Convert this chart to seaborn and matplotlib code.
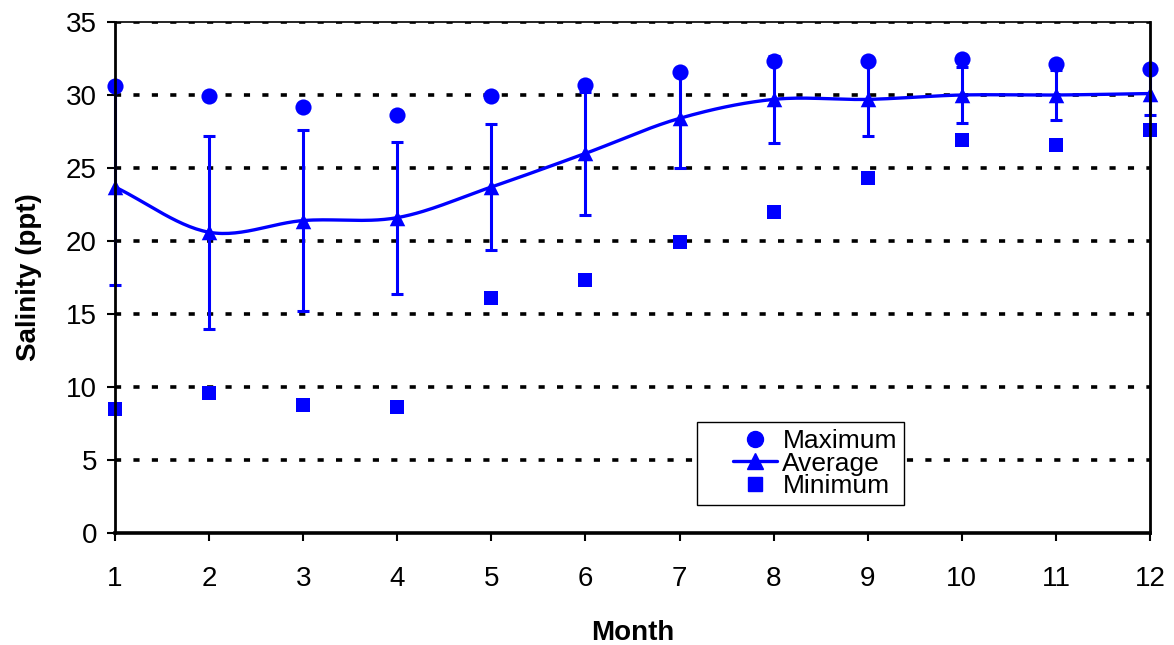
import numpy as np
import pandas as pd
import matplotlib
matplotlib.use("Agg")
import matplotlib.pyplot as plt
from matplotlib.lines import Line2D
from matplotlib.legend_handler import HandlerLine2D
import seaborn as sns

# monthly salinity summary (ppt)
months = [1, 2, 3, 4, 5, 6, 7, 8, 9, 10, 11, 12]
sal_max = [30.6, 29.9, 29.2, 28.6, 29.9, 30.7, 31.6, 32.3, 32.3, 32.5, 32.1, 31.8]
sal_avg = [23.7, 20.6, 21.4, 21.6, 23.7, 26.0, 28.4, 29.7, 29.7, 30.0, 30.0, 30.1]
sal_sd = [6.7, 6.6, 6.2, 5.2, 4.3, 4.2, 3.4, 3.0, 2.5, 1.9, 1.7, 1.5]
sal_min = [8.5, 9.6, 8.8, 8.6, 16.1, 17.3, 19.9, 22.0, 24.3, 26.9, 26.6, 27.6]

df = pd.DataFrame({"Month": months, "Maximum": sal_max, "Average": sal_avg,
                   "SD": sal_sd, "Minimum": sal_min})

sns.set_theme(style="white")
plt.rcParams["font.family"] = ["Liberation Sans", "DejaVu Sans"]
plt.rcParams["text.color"] = "black"
plt.rcParams["axes.labelcolor"] = "black"
plt.rcParams["xtick.color"] = "black"
plt.rcParams["ytick.color"] = "black"

BLUE = "#0000ff"
FS = 20


def smooth_curve(x, y, n=30):
    # catmull-rom style smoothing like a spreadsheet "smoothed line"
    x = np.asarray(x, float)
    y = np.asarray(y, float)
    px = np.concatenate([[2 * x[0] - x[1]], x, [2 * x[-1] - x[-2]]])
    py = np.concatenate([[2 * y[0] - y[1]], y, [2 * y[-1] - y[-2]]])
    xs, ys = [], []
    t = np.linspace(0, 1, n)
    for i in range(1, len(px) - 2):
        for p, out in ((px, xs), (py, ys)):
            p0, p1, p2, p3 = p[i - 1], p[i], p[i + 1], p[i + 2]
            out.append(0.5 * (2 * p1 + (-p0 + p2) * t
                              + (2 * p0 - 5 * p1 + 4 * p2 - p3) * t ** 2
                              + (-p0 + 3 * p1 - 3 * p2 + p3) * t ** 3))
    return np.concatenate(xs), np.concatenate(ys)


class ShortHandle(HandlerLine2D):
    # draw the handle only in the right part of the handle box
    frac = 0.6

    def create_artists(self, legend, orig_handle, xdescent, ydescent,
                       width, height, fontsize, trans):
        w = width * self.frac
        return super().create_artists(legend, orig_handle, xdescent - (width - w),
                                      ydescent, w, height, fontsize, trans)


fig = plt.figure(figsize=(11.74, 6.45), dpi=100)
ax = fig.add_axes([115 / 1174, 1 - 533 / 645, 1035 / 1174, 511 / 645])

# dotted gridlines
for yv in range(5, 40, 5):
    ax.axhline(yv, color="black", lw=2.6, ls=(0, (1.7, 3.4)), zorder=1)

# error bars around average
ax.errorbar(df["Month"], df["Average"], yerr=df["SD"], fmt="none",
            ecolor=BLUE, elinewidth=2.2, capsize=4.5, capthick=2.2, zorder=3,
            clip_on=False)

sx, sy = smooth_curve(df["Month"], df["Average"])
ax.plot(sx, sy, color=BLUE, lw=2.4, zorder=4, clip_on=False)

sns.scatterplot(data=df, x="Month", y="Average", marker="^", s=125, color=BLUE,
                edgecolor=BLUE, linewidth=0, ax=ax, zorder=5, clip_on=False)
sns.scatterplot(data=df, x="Month", y="Maximum", marker="o", s=135, color=BLUE,
                edgecolor=BLUE, linewidth=0, ax=ax, zorder=5, clip_on=False)
sns.scatterplot(data=df, x="Month", y="Minimum", marker="s", s=115, color=BLUE,
                edgecolor=BLUE, linewidth=0, ax=ax, zorder=5, clip_on=False)

ax.set_xlim(1, 12)
ax.set_ylim(0, 35)
ax.set_xticks(months)
ax.set_yticks(range(0, 40, 5))
ax.tick_params(axis="both", direction="out", length=6, width=1.5,
               labelsize=FS, left=True, bottom=True)
ax.tick_params(axis="x", pad=18)
ax.tick_params(axis="y", pad=7)

for side, w in (("left", 2.0), ("bottom", 2.6), ("right", 2.0), ("top", 1.2)):
    ax.spines[side].set_color("black")
    ax.spines[side].set_linewidth(w)
    ax.spines[side].set_zorder(6)

ax.set_xlabel("Month", fontsize=FS, fontweight="bold", labelpad=20)
ax.set_ylabel("Salinity (ppt)", fontsize=FS, fontweight="bold", labelpad=17)

handles = [
    Line2D([], [], ls="none", marker="o", color=BLUE, markersize=11.5),
    Line2D([], [], ls="-", lw=2.4, marker="^", color=BLUE, markersize=11),
    Line2D([], [], ls="none", marker="s", color=BLUE, markersize=10.5),
]
leg = ax.legend(handles, ["Maximum", "Average", "Minimum"], loc="lower left",
                bbox_to_anchor=(0.562, 0.055), borderaxespad=0, fontsize=19,
                frameon=True, fancybox=False, edgecolor="black", framealpha=1,
                labelspacing=-0.05, handlelength=2.8, handletextpad=0.2,
                borderpad=0.25, handler_map={Line2D: ShortHandle()})
leg.get_frame().set_linewidth(1.0)
leg.set_zorder(7)

fig.savefig("out.png", dpi=100, facecolor="white")
